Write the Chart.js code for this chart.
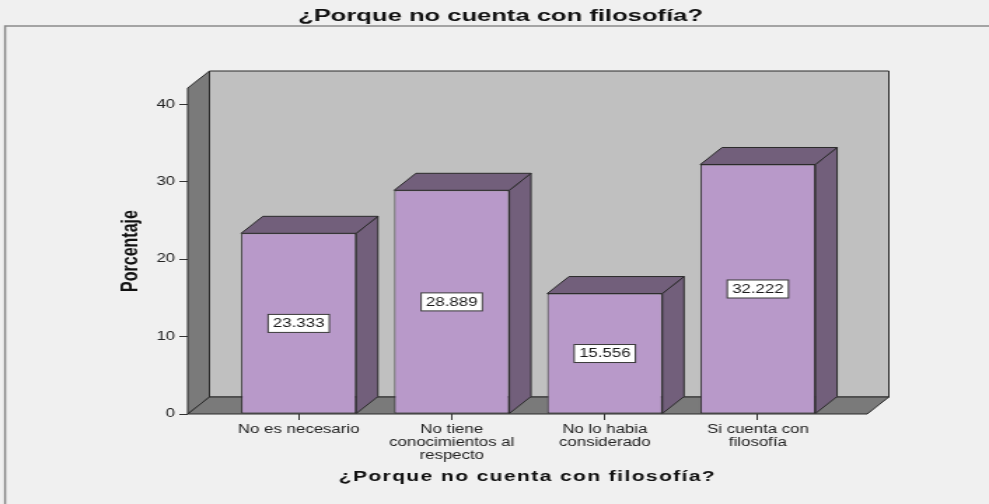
<!DOCTYPE html>
<html>
<head>
<meta charset="utf-8">
<script src="https://cdn.jsdelivr.net/npm/chart.js@4.4.1/dist/chart.umd.min.js"></script>
<style>
  html, body { margin: 0; padding: 0; background: #f0f0f0; }
</style>
</head>
<body>
<!-- el gráfico original está estirado en horizontal: se dibuja a 706px y se muestra a 989px -->
<canvas id="grafico" width="706" height="504" style="display:block;width:989px;height:504px"></canvas>
<script>
// ===== datos =====
const categorias = [
    ['No es necesario'],
    ['No tiene', 'conocimientos al', 'respecto'],
    ['No lo habia', 'considerado'],
    ['Si cuenta con', 'filosofía']
];
const porcentajes = [23.333, 28.889, 15.556, 32.222];
const ticksY = [0, 10, 20, 30, 40];
const titulo = '¿Porque no cuenta con filosofía?';
const tituloY = 'Porcentaje';

// ===== estilo =====
const FUENTE = '"Liberation Sans", Arial, sans-serif';
const prof = { dx: 15.5, dy: -17 };   // profundidad del efecto 3D
const colores = {
    fondo: '#f0f0f0',
    pared: '#c0c0c0',
    lateral: '#7a7a7a',
    linea: '#2b2b2b',
    barra: '#b899c9',
    barraOscura: '#725f7b'
};

Chart.defaults.font.family = FUENTE;
Chart.defaults.color = '#222';

function poligono(ctx, pts, relleno) {
    ctx.beginPath();
    ctx.moveTo(pts[0][0], pts[0][1]);
    for (let i = 1; i < pts.length; i++) ctx.lineTo(pts[i][0], pts[i][1]);
    ctx.closePath();
    ctx.fillStyle = relleno;
    ctx.fill();
    ctx.strokeStyle = colores.linea;
    ctx.lineWidth = 1;
    ctx.stroke();
}

function texto(ctx, txt, cx, y, font, ancho, espacio) {
    ctx.save();
    ctx.font = font;
    if (espacio) ctx.letterSpacing = espacio;
    const w = ctx.measureText(txt).width;
    const k = ancho ? ancho / w : 1;
    ctx.translate(cx, y);
    ctx.scale(k, 1);
    ctx.textAlign = 'center';
    ctx.textBaseline = 'alphabetic';
    ctx.fillStyle = '#111';
    ctx.fillText(txt, 0, 0);
    ctx.restore();
}

// paredes, suelo, caras laterales de las barras y etiquetas
const caja3d = {
    id: 'caja3d',
    beforeDraw(chart) {
        const ctx = chart.ctx;
        ctx.save();
        ctx.fillStyle = colores.fondo;
        ctx.fillRect(0, 0, chart.width, chart.height);
        ctx.strokeStyle = '#8a8a8a';
        ctx.lineWidth = 1.5;
        ctx.beginPath();
        ctx.moveTo(3.6, chart.height);
        ctx.lineTo(3.6, 26);
        ctx.lineTo(chart.width, 26);
        ctx.stroke();
        ctx.restore();
    },
    beforeDatasetsDraw(chart) {
        const { ctx, chartArea: a } = chart;
        const { dx, dy } = prof;
        ctx.save();
        poligono(ctx, [[a.left + dx, a.top + dy], [a.right + dx, a.top + dy], [a.right + dx, a.bottom + dy], [a.left + dx, a.bottom + dy]], colores.pared);
        poligono(ctx, [[a.left, a.bottom], [a.left, a.top], [a.left + dx, a.top + dy], [a.left + dx, a.bottom + dy]], colores.lateral);
        poligono(ctx, [[a.left, a.bottom], [a.right, a.bottom], [a.right + dx, a.bottom + dy], [a.left + dx, a.bottom + dy]], colores.lateral);
        ctx.restore();
    },
    afterDatasetsDraw(chart) {
        const ctx = chart.ctx;
        const { dx, dy } = prof;
        ctx.save();
        chart.getDatasetMeta(0).data.forEach((bar, i) => {
            const { x, y, base, width } = bar.getProps(['x', 'y', 'base', 'width'], true);
            const l = x - width / 2, r = x + width / 2;
            poligono(ctx, [[r, y], [r + dx, y + dy], [r + dx, base + dy], [r, base]], colores.barraOscura);
            poligono(ctx, [[l, y], [l + dx, y + dy], [r + dx, y + dy], [r, y]], colores.barraOscura);

            const txt = porcentajes[i].toFixed(3);
            ctx.font = '12px ' + FUENTE;
            const w = ctx.measureText(txt).width + 7, h = 18;
            const cy = (y + base) / 2;
            ctx.fillStyle = '#fff';
            ctx.fillRect(x - w / 2, cy - h / 2, w, h);
            ctx.strokeStyle = '#3a3a3a';
            ctx.lineWidth = 1;
            ctx.strokeRect(x - w / 2, cy - h / 2, w, h);
            ctx.fillStyle = '#1a1a1a';
            ctx.textAlign = 'center';
            ctx.textBaseline = 'middle';
            ctx.fillText(txt, x, cy + 0.5);
        });
        ctx.restore();
    },
    afterDraw(chart) {
        const a = chart.chartArea;
        texto(chart.ctx, titulo, 357.3, 21, 'bold 16px ' + FUENTE, 289);
        texto(chart.ctx, titulo, (a.left + a.right) / 2, 481, 'bold 15px ' + FUENTE, null, '1px');
    }
};

new Chart(document.getElementById('grafico'), {
    type: 'bar',
    data: {
        datasets: [{
            label: tituloY,
            data: porcentajes.map((v, i) => ({ x: i, y: v })),
            backgroundColor: colores.barra,
            borderColor: colores.linea,
            borderWidth: 1,
            borderSkipped: false,
            barPercentage: 0.752,
            categoryPercentage: 1
        }]
    },
    options: {
        responsive: false,
        devicePixelRatio: 1,
        animation: false,
        layout: { padding: { left: 80, right: 87, top: 88, bottom: 0 } },
        plugins: {
            legend: { display: false },
            tooltip: { enabled: false }
        },
        scales: {
            x: {
                type: 'linear',
                min: -0.725,
                max: 3.714,
                offset: false,
                afterBuildTicks: s => { s.ticks = categorias.map((_, i) => ({ value: i })); },
                afterFit: s => { s.height = 90; },
                grid: { display: true, offset: false, drawOnChartArea: false, drawTicks: true, tickLength: 6, color: '#333' },
                border: { display: false },
                ticks: {
                    autoSkip: false,
                    maxRotation: 0,
                    padding: 3,
                    color: '#222',
                    font: { size: 12, lineHeight: 1.1 },
                    callback: v => categorias[v] || ''
                }
            },
            y: {
                min: 0,
                max: 42.1,
                afterBuildTicks: s => { s.ticks = ticksY.map(v => ({ value: v })); },
                afterFit: s => { s.width = 54; },
                grid: { display: true, drawOnChartArea: false, drawTicks: true, tickLength: 6, color: '#333' },
                border: { display: false },
                ticks: { padding: 3, color: '#222', font: { size: 12 } },
                title: {
                    display: true,
                    text: tituloY,
                    color: '#111',
                    font: { size: 16, weight: 'bold' }
                }
            }
        }
    },
    plugins: [caja3d]
});
</script>
</body>
</html>
